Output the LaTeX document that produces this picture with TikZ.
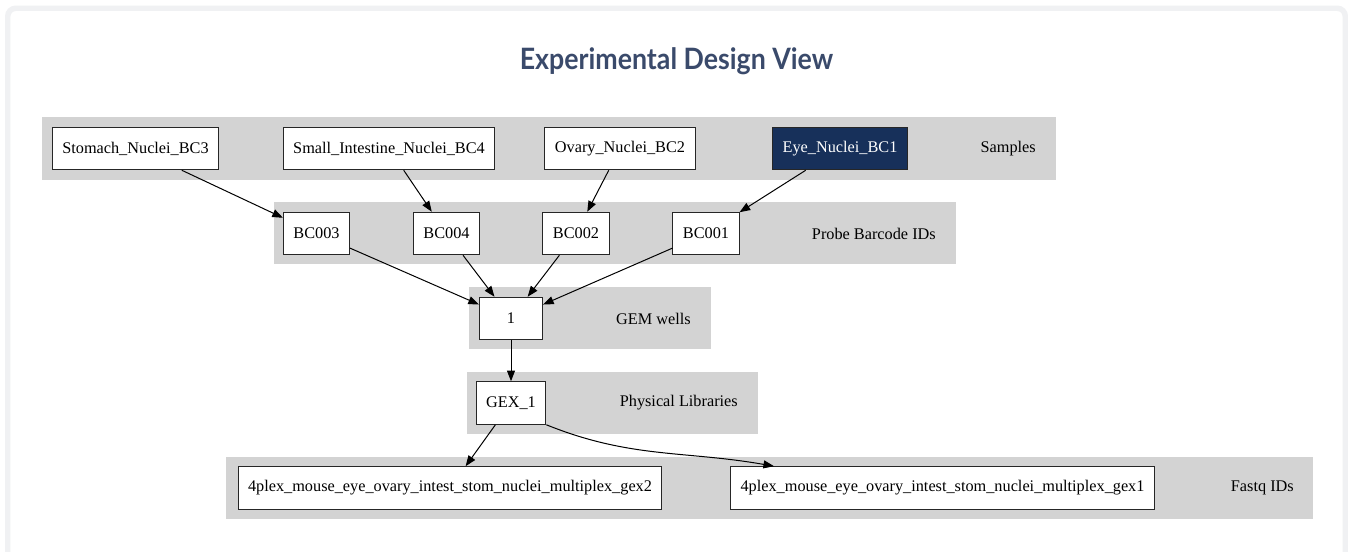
\documentclass[tikz,border=0pt]{standalone}
\usepackage{fontspec}
\setmainfont{Liberation Serif}
\newfontfamily\titlefont{Lato}
\usetikzlibrary{arrows.meta,calc}
\definecolor{bandc}{HTML}{D3D3D3}
\definecolor{navy}{HTML}{17305A}
\definecolor{titlec}{HTML}{3A4A6B}
\definecolor{cardb}{HTML}{F0F1F3}
\begin{document}
\begin{tikzpicture}[x=0.75pt,y=-0.75pt,
  box/.style={draw=black!85, line width=0.75pt, fill=white, minimum width=47.25pt,
    minimum height=31.9pt, inner xsep=7.5pt, font=\fontsize{12.2}{14}\selectfont},
  lbl/.style={anchor=east, inner sep=0pt, font=\fontsize{12.2}{14}\selectfont},
  edge/.style={draw=black, line width=0.75pt, -{Triangle[length=8pt,width=6pt]}},
  bandbg/.style={fill=bandc}]
\useasboundingbox (0,0) rectangle (1348,552);
\fill[white] (0,0) rectangle (1348,552);
\begin{scope}
\clip (0,0) rectangle (1348,552);
\draw[cardb, line width=4.1pt, rounded corners=6pt] (7.75,8.25) rectangle (1345.25,620);
\end{scope}
\node[anchor=base, text=titlec, inner sep=0pt, font=\titlefont\bfseries] (title) at (676.5,70)
  {\resizebox{235pt}{16.4pt}{Experimental Design View}};
% bands
\fill[bandbg] (42,117) rectangle (1056,180);
\fill[bandbg] (274,202) rectangle (956,264);
\fill[bandbg] (469,287) rectangle (711,349);
\fill[bandbg] (467,372) rectangle (758,434);
\fill[bandbg] (226,457) rectangle (1313,519);
% samples
\node[box] (stomach) at (135.5,148.5) {Stomach\_Nuclei\_BC3};
\node[box] (smallint) at (389,148.5) {Small\_Intestine\_Nuclei\_BC4};
\node[box] (ovary) at (620,148.5) {Ovary\_Nuclei\_BC2};
\node[box, fill=navy, text=white] (eye) at (840,148.5) {Eye\_Nuclei\_BC1};
\node[lbl] (samples) at (1036,148.5) {Samples};
% probe
\node[box] (bc003) at (316.5,233.5) {BC003};
\node[box] (bc004) at (446.5,233.5) {BC004};
\node[box] (bc002) at (576,233.5) {BC002};
\node[box] (bc001) at (706,233.5) {BC001};
\node[lbl] (probe) at (936,233.5) {Probe Barcode IDs};
% gem
\node[box] (well) at (511,318.5) {1};
\node[lbl] (gem) at (691,318.5) {GEM wells};
% physical
\node[box] (gex) at (511,403) {GEX\_1};
\node[lbl] (phys) at (738,403) {Physical Libraries};
% fastq
\node[box] (gex2) at (450,488) {4plex\_mouse\_eye\_ovary\_intest\_stom\_nuclei\_multiplex\_gex2};
\node[box] (gex1) at (942.5,488) {4plex\_mouse\_eye\_ovary\_intest\_stom\_nuclei\_multiplex\_gex1};
\node[lbl] (fastq) at (1294,488) {Fastq IDs};
% edges
\draw[edge] (stomach) -- (bc003);
\draw[edge] (smallint) -- (bc004);
\draw[edge] (ovary) -- (bc002);
\draw[edge] (eye) -- (bc001);
\draw[edge] (bc003) -- (well);
\draw[edge] (bc004) -- (well);
\draw[edge] (bc002) -- (well);
\draw[edge] (bc001) -- (well);
\draw[edge] (well) -- (gex);
\draw[edge] (gex) -- (gex2);
\draw[edge] (gex.south east) to[out=-22,in=170] ($(gex1.north west)+(44,0)$);
\end{tikzpicture}
\end{document}
